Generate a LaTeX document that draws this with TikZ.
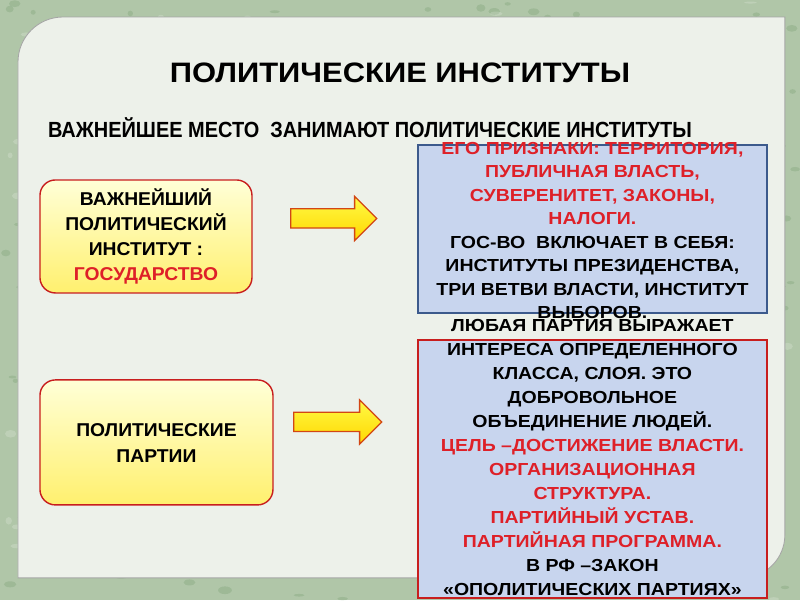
\documentclass[tikz,border=0pt]{standalone}
\usepackage{fontspec}
\setmainfont{Liberation Sans}
\newfontfamily\titlefont[FakeStretch=1.1]{Liberation Sans}
\newfontfamily\subfont[FakeStretch=0.91]{Liberation Sans}
\newfontfamily\boxfont[FakeStretch=1.12]{Liberation Sans}
\newfontfamily\keyfont[FakeStretch=1.04]{Liberation Sans}
\usepackage{xcolor}
\usetikzlibrary{shapes.arrows, positioning, calc}
\definecolor{PIGreen}{RGB}{176, 198, 168}
\definecolor{PIPanel}{RGB}{237, 241, 234}
\definecolor{PIRed}{RGB}{222, 32, 40}
\definecolor{PIBorder}{RGB}{200, 30, 30}
\definecolor{PIArrowLine}{RGB}{210, 70, 20}
\definecolor{PIArrowTop}{RGB}{255, 250, 70}
\definecolor{PIArrowBot}{RGB}{255, 215, 0}
\definecolor{PIBlueFill}{RGB}{200, 213, 238}
\definecolor{PIBlueLine}{RGB}{60, 90, 140}
\definecolor{PIYellowTop}{RGB}{255, 255, 215}
\definecolor{PIYellowBot}{RGB}{255, 240, 110}

\tikzset{
  yellowbox/.style={rounded corners=11pt, draw=PIBorder, line width=1pt,
    top color=PIYellowTop, bottom color=PIYellowBot, inner sep=0pt},
  infobox/.style={draw, line width=1pt, fill=PIBlueFill, inner sep=0pt},
  blockarrow/.style={single arrow, draw=PIArrowLine, line width=0.9pt,
    top color=PIArrowTop, bottom color=PIArrowBot,
    minimum width=1.075cm, single arrow head extend=0.3125cm,
    single arrow tip angle=90, inner xsep=0pt, inner ysep=0.225cm},
  boxtext/.style={align=center, font=\boxfont\bfseries\fontsize{12.4}{16.7}\selectfont},
  keytext/.style={align=center, font=\keyfont\bfseries\fontsize{13.2}{17.8}\selectfont}
}

\begin{document}
\begin{tikzpicture}[x=0.025cm, y=-0.025cm]
  % background and panel
  \fill[PIGreen] (0,0) rectangle (800,600);
  \pgfmathsetseed{11}
  \foreach \i in {1,...,260}
    \fill[green!30!black, opacity=0.10] (rnd*800, rnd*600) ellipse ({2+rnd*5} and {1+rnd*3});
  \foreach \i in {1,...,160}
    \fill[white, opacity=0.18] (rnd*800, rnd*600) ellipse ({2+rnd*5} and {1+rnd*3});
  \draw[fill=PIPanel, draw=black!35, line width=0.6pt]
    (18,578) -- (18,62) arc[start angle=180, end angle=270, radius=45]
    -- (785,17) -- (785,535) arc[start angle=0, end angle=90, radius=43] -- cycle;

  % headings
  \node (title) at (400,73) {\titlefont\bfseries\fontsize{20}{24}\selectfont ПОЛИТИЧЕСКИЕ ИНСТИТУТЫ};
  \node (sub) at (370,128) {\subfont\bfseries\fontsize{15.6}{18}\selectfont ВАЖНЕЙШЕЕ МЕСТО\ \ ЗАНИМАЮТ ПОЛИТИЧЕСКИЕ ИНСТИТУТЫ};

  % left boxes
  \node[yellowbox, minimum width=5.3cm, minimum height=2.825cm] (state) at (146,236.5) {};
  \node[keytext] at (state) {ВАЖНЕЙШИЙ\\ПОЛИТИЧЕСКИЙ\\ИНСТИТУТ :\\\textcolor{PIRed}{ГОСУДАРСТВО}};
  \node[yellowbox, minimum width=5.825cm, minimum height=3.125cm] (party) at (156.5,442.5) {};
  \node[keytext, font=\keyfont\bfseries\fontsize{13.2}{18.5}\selectfont] at ($(party)+(0,0.5)$) {ПОЛИТИЧЕСКИЕ\\ПАРТИИ};

  % arrows
  \node[blockarrow, minimum height=2.15cm] (arrstate) at (329,218.5) {};
  \node[blockarrow, minimum height=2.2cm] (arrparty) at (333,422) {};

  % right boxes
  \node[infobox, draw=PIBlueLine, minimum width=8.725cm, minimum height=4.2cm] (statebox) at (592.5,229) {};
  \node[boxtext] (statetxt) at (592.5,230.5) {%
    \textcolor{PIRed}{ЕГО ПРИЗНАКИ: ТЕРРИТОРИЯ,}\\
    \textcolor{PIRed}{ПУБЛИЧНАЯ ВЛАСТЬ,}\\
    \textcolor{PIRed}{СУВЕРЕНИТЕТ, ЗАКОНЫ,}\\
    \textcolor{PIRed}{НАЛОГИ.}\\
    ГОС-ВО\ \ ВКЛЮЧАЕТ В СЕБЯ:\\
    ИНСТИТУТЫ ПРЕЗИДЕНСТВА,\\
    ТРИ ВЕТВИ ВЛАСТИ, ИНСТИТУТ\\
    ВЫБОРОВ.};
  \node[infobox, draw=PIBorder, minimum width=8.725cm, minimum height=6.45cm] (partybox) at (592.5,469) {};
  \node[boxtext, font=\boxfont\bfseries\fontsize{12.4}{17.1}\selectfont] (partytxt) at (592.5,457.5) {%
    ЛЮБАЯ ПАРТИЯ ВЫРАЖАЕТ\\
    ИНТЕРЕСА ОПРЕДЕЛЕННОГО\\
    КЛАССА, СЛОЯ. ЭТО\\
    ДОБРОВОЛЬНОЕ\\
    ОБЪЕДИНЕНИЕ ЛЮДЕЙ.\\
    \textcolor{PIRed}{ЦЕЛЬ –ДОСТИЖЕНИЕ ВЛАСТИ.}\\
    \textcolor{PIRed}{ОРГАНИЗАЦИОННАЯ}\\
    \textcolor{PIRed}{СТРУКТУРА.}\\
    \textcolor{PIRed}{ПАРТИЙНЫЙ УСТАВ.}\\
    \textcolor{PIRed}{ПАРТИЙНАЯ ПРОГРАММА.}\\
    В РФ –ЗАКОН\\
    «ОПОЛИТИЧЕСКИХ ПАРТИЯХ»};
\end{tikzpicture}
\end{document}
